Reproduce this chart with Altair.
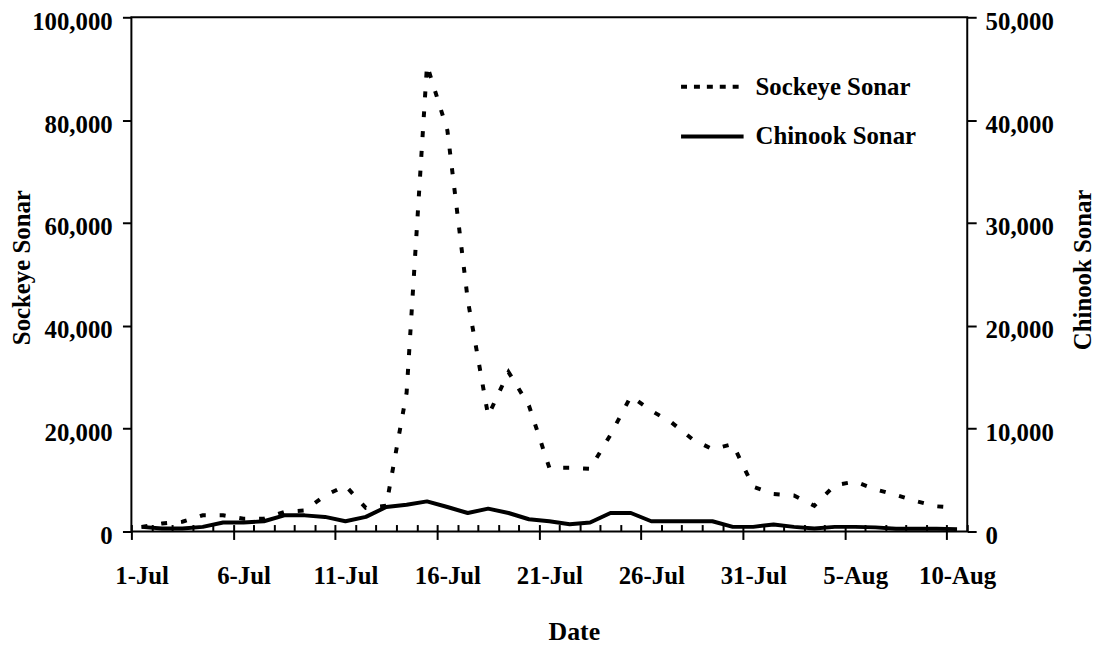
import altair as alt
import pandas as pd

# ---------------- data ----------------
DATES = [f"{d}-Jul" for d in range(1, 32)] + [f"{d}-Aug" for d in range(1, 11)]
SOCKEYE = [900, 1550, 1900, 3150, 3150, 2500, 2500, 3800, 4100, 7000,
           8900, 4600, 5000, 27000, 90700, 78000, 45000, 22500, 31000, 24500,
           12400, 12400, 12200, 18800, 26300, 23500, 21200, 18000, 16000, 17000,
           8700, 7300, 7000, 5000, 9000, 9700, 8200, 7100, 5900, 4900, 4600]
CHINOOK = [450, 290, 290, 450, 870, 870, 1000, 1570, 1570, 1420,
           1000, 1420, 2380, 2600, 2930, 2380, 1800, 2220, 1800, 1190,
           1000, 710, 870, 1800, 1800, 1000, 1000, 1000, 1000, 450,
           450, 680, 450, 290, 450, 450, 400, 260, 260, 260, 230]
TICK_LABELS = DATES[::5]
LEFT_TICKS = [0, 20000, 40000, 60000, 80000, 100000]
RIGHT_TICKS = [0, 10000, 20000, 30000, 40000, 50000]
SERIES = ["Sockeye Sonar", "Chinook Sonar"]

df = pd.DataFrame({
    "day": list(range(len(DATES))),
    "date": DATES,
    "sockeye": SOCKEYE,
    "chinook": CHINOOK,
})
df["s_series"] = SERIES[0]
df["c_series"] = SERIES[1]

FONT = "Liberation Serif"
W, H = 842, 518

label_js = "[" + ",".join(f"'{t}'" for t in TICK_LABELS) + "]"
x_vals = [i - 0.5 for i in range(len(DATES) + 1)]
major_test = "(datum.value + 0.5) % 5 == 0"

x_enc = alt.X(
    "day:Q",
    scale=alt.Scale(domain=[-0.5, len(DATES) - 0.5], nice=False, zero=False),
    axis=alt.Axis(
        values=x_vals,
        labelExpr=f"{major_test} ? {label_js}[(datum.value + 0.5) / 5] : ''",
        offset=-7,
        domain=False,
        grid=False,
        tickSize={"condition": {"test": major_test, "value": 15}, "value": 7},
        tickWidth=2,
        tickColor="black",
        labelPadding=24,
        labelOffset=10.3,
        labelOverlap=False,
        labelFlush=False,
        labelFont=FONT,
        labelFontSize=25,
        labelFontWeight="bold",
        labelColor="black",
        title="Date",
        titleFont=FONT,
        titleFontSize=26,
        titleFontWeight="bold",
        titleColor="black",
        titleX=445.7,
        titleY=116,
        titleAlign="center",
        titleBaseline="alphabetic",
    ),
)

common_y_axis = dict(
    domain=False,
    grid=False,
    tickSize=9,
    tickWidth=2,
    tickColor="black",
    format=",.0f",
    labelFont=FONT,
    labelFontSize=25,
    labelFontWeight="bold",
    labelColor="black",
    labelBaseline="middle",
    labelOffset=4,
    titleFont=FONT,
    titleFontSize=25,
    titleFontWeight="bold",
    titleColor="black",
    titleAngle=270,
    titleAlign="center",
    titleBaseline="alphabetic",
)

legend_common = dict(
    title=None,
    orient="none",
    symbolType="stroke",
    symbolSize=3969,
    symbolStrokeWidth=4,
    symbolStrokeColor="black",
    labelFont=FONT,
    labelFontSize=25,
    labelFontWeight="bold",
    labelColor="black",
    labelOffset=10,
    labelLimit=400,
    padding=0,
)

sock = alt.Chart(df).mark_line(
    color="black", strokeWidth=4, strokeCap="butt", strokeDash=[6, 14]
).encode(
    x=x_enc,
    y=alt.Y(
        "sockeye:Q",
        scale=alt.Scale(domain=[0, 100000], nice=False),
        axis=alt.Axis(orient="left", values=LEFT_TICKS, labelPadding=10.3,
                      title="Sockeye Sonar", titleX=-102.3, titleY=251.7,
                      **common_y_axis),
    ),
    opacity=alt.Opacity(
        "s_series:N",
        scale=alt.Scale(domain=[SERIES[0]], range=[1]),
        legend=alt.Legend(legendX=551.7, legendY=36.5, symbolDash=[6, 7],
                          **legend_common),
    ),
)

chin = alt.Chart(df).mark_line(color="black", strokeWidth=4, strokeJoin="round").encode(
    x=x_enc,
    y=alt.Y(
        "chinook:Q",
        scale=alt.Scale(domain=[0, 50000], nice=False),
        axis=alt.Axis(orient="right", values=RIGHT_TICKS, labelPadding=9,
                      title="Chinook Sonar", titleX=124, titleY=254,
                      **common_y_axis),
    ),
    color=alt.Color(
        "c_series:N",
        scale=alt.Scale(domain=[SERIES[1]], range=["black"]),
        legend=alt.Legend(legendX=551.7, legendY=86.5, **legend_common),
    ),
)

chart = (
    alt.layer(sock, chin)
    .resolve_scale(y="independent")
    .properties(
        width=W,
        height=H,
        autosize=alt.AutoSizeParams(type="none"),
        padding={"left": 124.3, "top": 7, "right": 129.7, "bottom": 115},
        background="white",
    )
    .configure_view(stroke="black", strokeWidth=2)
)

chart.save("out.html", embed_options={"renderer": "svg", "actions": False})
